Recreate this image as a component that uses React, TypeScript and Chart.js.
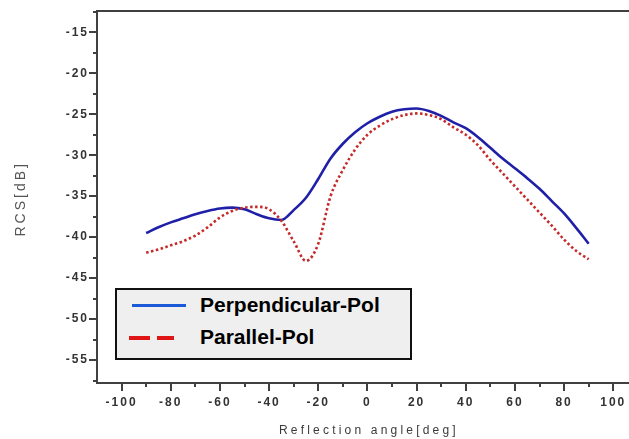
import React, { useEffect, useRef } from "react";
import { Chart, registerables } from "chart.js";

Chart.register(...registerables);

const angles = [-90, -85, -80, -75, -70, -65, -60, -55, -50, -45, -40, -35, -30, -25, -20, -15, -10, -5, 0, 5, 10, 15, 20, 25, 30, 35, 40, 45, 50, 55, 60, 65, 70, 75, 80, 85, 90];
const perpendicularPol = [-39.5, -38.8, -38.2, -37.7, -37.2, -36.8, -36.5, -36.4, -36.6, -37.2, -37.7, -37.9, -36.7, -35.2, -32.9, -30.4, -28.6, -27.2, -26.1, -25.3, -24.7, -24.4, -24.3, -24.6, -25.2, -26.0, -26.7, -27.8, -29.1, -30.4, -31.6, -32.8, -34.1, -35.6, -37.1, -38.9, -40.8];
const parallelPol = [-41.9, -41.5, -41.0, -40.5, -39.8, -38.8, -37.6, -36.8, -36.4, -36.3, -36.6, -38.0, -40.5, -42.9, -40.8, -35.0, -31.8, -29.3, -27.5, -26.4, -25.6, -25.1, -24.9, -25.1, -25.6, -26.6, -27.5, -28.8, -30.6, -32.2, -33.8, -35.4, -37.0, -38.6, -40.3, -41.7, -42.7];
const seriesNames = ["Perpendicular-Pol", "Parallel-Pol"];
const xTitle = "Reflection angle[deg]";
const yTitle = "RCS[dB]";
const xMajorTicks = [-100, -80, -60, -40, -20, 0, 20, 40, 60, 80, 100];
const yMajorTicks = [-55, -50, -45, -40, -35, -30, -25, -20, -15];

const AXIS_COLOR = "#404040";

const decorPlugin = {
  id: "decor",
  beforeDraw(chart: any) {
    chart.ctx.letterSpacing = "2px";
  },
  afterDraw(chart: any) {
    const ctx = chart.ctx;
    const { left, right, top, bottom } = chart.chartArea;
    const xs = chart.scales.x;
    const ys = chart.scales.y;
    ctx.save();
    ctx.letterSpacing = "0px";
    ctx.strokeStyle = AXIS_COLOR;
    ctx.lineWidth = 2;
    // top border
    ctx.beginPath();
    ctx.moveTo(left - 1, top);
    ctx.lineTo(right, top);
    ctx.stroke();
    // x ticks (major + minor)
    for (let v = -100; v <= 100; v += 10) {
      const px = Math.round(xs.getPixelForValue(v));
      const len = v % 20 === 0 ? 8 : 4;
      ctx.beginPath();
      ctx.moveTo(px, bottom);
      ctx.lineTo(px, bottom + len);
      ctx.stroke();
    }
    // y ticks (major + minor)
    for (let v = -57.5; v <= -12.5; v += 2.5) {
      const py = Math.round(ys.getPixelForValue(v));
      const len = Math.abs(v % 5) < 1e-6 ? 8 : 4;
      ctx.beginPath();
      ctx.moveTo(left, py);
      ctx.lineTo(left - len, py);
      ctx.stroke();
    }
    // axis titles
    ctx.fillStyle = "#3a3a3a";
    ctx.font = "12px 'Liberation Sans', Arial, sans-serif";
    ctx.letterSpacing = "3.2px";
    ctx.textAlign = "center";
    ctx.textBaseline = "middle";
    const xMid = (left + xs.getPixelForValue(110)) / 2;
    ctx.fillText(xTitle, xMid + 1.5, 431);
    ctx.letterSpacing = "3px";
    ctx.font = "14px 'Liberation Sans', Arial, sans-serif";
    ctx.fillStyle = "#555";
    ctx.translate(21, ys.getPixelForValue(-35.5));
    ctx.rotate(-Math.PI / 2);
    ctx.fillText(yTitle, 1.5, 0);
    ctx.restore();
    ctx.letterSpacing = "0px";
  },
};

export default function App() {
  const canvasRef = useRef<HTMLCanvasElement | null>(null);

  useEffect(() => {
    document.body.style.margin = "0";
    const canvas = canvasRef.current;
    if (!canvas) return;
    const perpData = angles.map((a, i) => ({ x: a, y: perpendicularPol[i] }));
    const paraData = angles.map((a, i) => ({ x: a, y: parallelPol[i] }));
    const chart = new Chart(canvas, {
      type: "line",
      data: {
        datasets: [
          {
            label: seriesNames[1],
            data: paraData,
            borderColor: "#c42a2a",
            borderWidth: 2.6,
            borderDash: [2.5, 2.5],
            pointRadius: 0,
            fill: false,
            cubicInterpolationMode: "monotone",
          },
          {
            label: seriesNames[0],
            data: perpData,
            borderColor: "#1f1fa8",
            borderWidth: 2.6,
            pointRadius: 0,
            fill: false,
            cubicInterpolationMode: "monotone",
          },
        ],
      },
      options: {
        animation: false,
        responsive: true,
        maintainAspectRatio: false,
        layout: { padding: { top: 11, right: 0, left: 0, bottom: 0 } },
        plugins: {
          legend: { display: false },
          tooltip: { enabled: false },
          title: { display: false },
        },
        scales: {
          x: {
            type: "linear",
            min: -110,
            max: 106.4,
            afterFit: (s: any) => {
              s.height = 56;
              s.paddingLeft = 0;
              s.paddingRight = 0;
            },
            afterBuildTicks: (s: any) => {
              s.ticks = xMajorTicks.map((v) => ({ value: v }));
            },
            grid: { display: false, drawTicks: false },
            border: { display: true, color: AXIS_COLOR, width: 2 },
            ticks: {
              padding: 12,
              maxRotation: 0,
              autoSkip: false,
              color: "#333",
              font: { family: "'Liberation Sans', Arial, sans-serif", size: 12, weight: "bold" },
            },
          },
          y: {
            type: "linear",
            min: -57.8,
            max: -12.4,
            afterFit: (s: any) => {
              s.width = 97;
              s.paddingTop = 0;
              s.paddingBottom = 0;
            },
            afterBuildTicks: (s: any) => {
              s.ticks = yMajorTicks.map((v) => ({ value: v }));
            },
            grid: { display: false, drawTicks: false },
            border: { display: true, color: AXIS_COLOR, width: 2 },
            ticks: {
              padding: 8,
              autoSkip: false,
              color: "#333",
              font: { family: "'Liberation Sans', Arial, sans-serif", size: 12, weight: "bold" },
            },
          },
        },
      },
      plugins: [decorPlugin],
    });
    return () => chart.destroy();
  }, []);

  return (
    <div style={{ position: "relative", width: 629, height: 439, background: "#fff", overflow: "hidden" }}>
      <canvas ref={canvasRef} />
      <div
        style={{
          position: "absolute",
          left: 115,
          top: 288,
          width: 293,
          height: 68,
          background: "#efefef",
          border: "2px solid #111",
          fontFamily: "'Liberation Sans', Arial, sans-serif",
          fontWeight: "bold",
          fontSize: 21,
          color: "#000",
        }}
      >
        <div style={{ position: "absolute", left: 15, top: 14, width: 54, height: 3, background: "#1a5ad8" }} />
        <div style={{ position: "absolute", left: 12, top: 46, width: 21, height: 4, background: "#e01515" }} />
        <div style={{ position: "absolute", left: 40, top: 46, width: 17, height: 4, background: "#e01515" }} />
        <div style={{ position: "absolute", left: 83, top: 2, lineHeight: "26px", whiteSpace: "nowrap" }}>{seriesNames[0]}</div>
        <div style={{ position: "absolute", left: 83, top: 34, lineHeight: "26px", whiteSpace: "nowrap" }}>{seriesNames[1]}</div>
      </div>
    </div>
  );
}
